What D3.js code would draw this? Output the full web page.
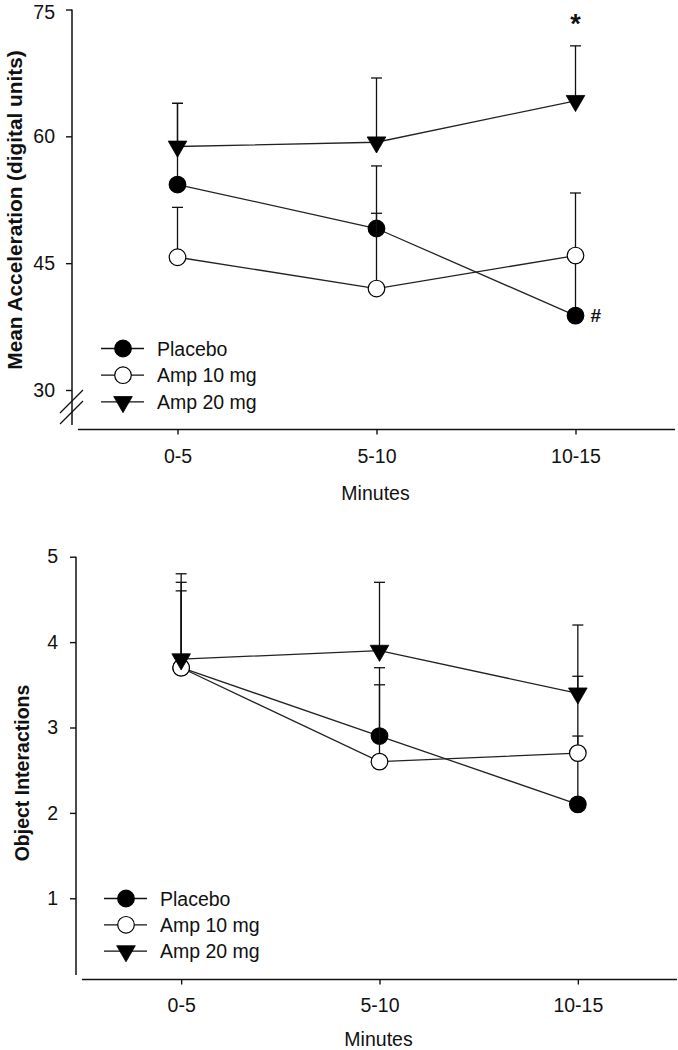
<!DOCTYPE html>
<html>
<head>
<meta charset="utf-8">
<script src="https://cdn.jsdelivr.net/npm/d3@7"></script>
<style>
  html, body { margin: 0; padding: 0; background: #fff; }
  svg { display: block; }
  text { font-family: "Liberation Sans", Arial, sans-serif; fill: #111; }
</style>
</head>
<body>
<svg id="chart" width="678" height="1050"></svg>
<script>
// ---------------- data ----------------
const categories = ["0-5", "5-10", "10-15"];
const seriesNames = ["Placebo", "Amp 10 mg", "Amp 20 mg"];

// Panel A: Mean Acceleration (digital units)
const accPlacebo    = [54.3, 49.1, 38.8];
const accPlaceboErr = [9.6, 7.4, 6.3];
const accAmp10      = [45.7, 42.0, 45.9];
const accAmp10Err   = [5.9, 8.9, 7.4];
const accAmp20      = [58.8, 59.3, 64.2];
const accAmp20Err   = [5.1, 7.6, 6.5];
const accTicks      = [30, 45, 60, 75];

// Panel B: Object Interactions
const objPlacebo    = [3.7, 2.9, 2.1];
const objPlaceboErr = [0.9, 0.8, 0.8];
const objAmp10      = [3.7, 2.6, 2.7];
const objAmp10Err   = [1.0, 0.9, 0.9];
const objAmp20      = [3.8, 3.9, 3.4];
const objAmp20Err   = [1.0, 0.8, 0.8];
const objTicks      = [1, 2, 3, 4, 5];

const markerKinds = ["filledCircle", "openCircle", "triangleDown"];

// ---------------- drawing ----------------
const svg = d3.select("#chart");
const FONT = 19.5;

function drawMarker(g, kind, x, y) {
  if (kind === "triangleDown") {
    g.append("path")
      .attr("d", d3.symbol().type(d3.symbolTriangle).size(150)())
      .attr("transform", `translate(${x},${y}) rotate(180)`)
      .attr("fill", "#000").attr("stroke", "#000").attr("stroke-width", 0.8);
  } else {
    g.append("circle")
      .attr("cx", x).attr("cy", y).attr("r", 8.3)
      .attr("fill", kind === "filledCircle" ? "#000" : "#fff")
      .attr("stroke", "#000").attr("stroke-width", 1.2);
  }
}

function panel(cfg) {
  const g = svg.append("g");
  const x = d3.scalePoint().domain(categories).range(cfg.xRange).padding(0.5);
  const y = d3.scaleLinear().domain(cfg.yDomain).range(cfg.yRange);

  // y axis
  const yAxis = d3.axisLeft(y).tickValues(cfg.ticks).tickFormat(d3.format("d"))
    .tickSize(6).tickPadding(cfg.yPad).tickSizeOuter(0);
  const ya = g.append("g").attr("transform", `translate(${cfg.yAxisX},0)`).call(yAxis);
  ya.select(".domain").remove();
  ya.selectAll(".tick line").attr("stroke", "#111").attr("stroke-width", 1.4);
  ya.selectAll(".tick text").attr("font-size", FONT).attr("fill", "#222")
    .style("font-family", '"Liberation Sans", Arial, sans-serif');
  // keep the top tick label inside the page
  ya.selectAll(".tick text").filter(d => d === cfg.yDomain[1] && y(d) < 14)
    .attr("dy", "0.45em");
  g.append("line")
    .attr("x1", cfg.yAxisX).attr("x2", cfg.yAxisX)
    .attr("y1", y(cfg.yDomain[1])).attr("y2", cfg.yAxisEnd)
    .attr("stroke", "#111").attr("stroke-width", 1.5);

  if (cfg.axisBreak) {
    cfg.axisBreak.forEach(by => {
      g.append("line")
        .attr("x1", cfg.yAxisX - 12).attr("y1", by + 12)
        .attr("x2", cfg.yAxisX + 11).attr("y2", by - 11)
        .attr("stroke", "#111").attr("stroke-width", 1.3);
    });
  }

  // x axis
  const xAxis = d3.axisBottom(x).tickSize(5).tickPadding(cfg.xPad).tickSizeOuter(0);
  const xa = g.append("g").attr("transform", `translate(0,${cfg.xAxisY})`).call(xAxis);
  xa.select(".domain").attr("stroke", "#111").attr("stroke-width", 1.5)
    .attr("d", `M${cfg.xRange[0]},0H${cfg.xRange[1]}`);
  xa.selectAll(".tick line").attr("stroke", "#111").attr("stroke-width", 1.4);
  xa.selectAll(".tick text").attr("font-size", FONT).attr("fill", "#222")
    .style("font-family", '"Liberation Sans", Arial, sans-serif');

  // axis titles
  g.append("text")
    .attr("x", (cfg.xRange[0] + cfg.xRange[1]) / 2 - 1).attr("y", cfg.xTitleY)
    .attr("text-anchor", "middle").attr("font-size", FONT).attr("fill", "#222")
    .text("Minutes");
  g.append("text")
    .attr("transform", `translate(${cfg.yTitleX},${cfg.yTitleY}) rotate(-90)`)
    .attr("text-anchor", "middle").attr("dy", "0.36em")
    .attr("font-size", cfg.yTitleSize).attr("font-weight", "bold").attr("fill", "#000")
    .text(cfg.yTitle);

  // series
  const line = d3.line().x((d, i) => x(categories[i])).y(d => y(d));
  cfg.series.forEach((s, si) => {
    const sg = g.append("g");
    sg.append("path").attr("d", line(s.values))
      .attr("fill", "none").attr("stroke", "#222").attr("stroke-width", 1.3);
    s.values.forEach((v, i) => {
      const cx = x(categories[i]);
      const top = y(v + s.err[i]);
      sg.append("line").attr("x1", cx).attr("x2", cx).attr("y1", y(v)).attr("y2", top)
        .attr("stroke", "#111").attr("stroke-width", 1.3);
      sg.append("line").attr("x1", cx - 5.5).attr("x2", cx + 5.5).attr("y1", top).attr("y2", top)
        .attr("stroke", "#111").attr("stroke-width", 1.3);
    });
    s.values.forEach((v, i) => drawMarker(sg, markerKinds[si], x(categories[i]), y(v)));
  });

  // legend
  const lg = g.append("g");
  seriesNames.forEach((name, i) => {
    const ly = cfg.legendY + i * cfg.legendStep;
    lg.append("line").attr("x1", cfg.legendX).attr("x2", cfg.legendX + 43)
      .attr("y1", ly).attr("y2", ly).attr("stroke", "#111").attr("stroke-width", 1.3);
    drawMarker(lg, markerKinds[i], cfg.legendX + 22, ly);
    lg.append("text").attr("x", cfg.legendX + 56).attr("y", ly).attr("dy", "0.36em")
      .attr("font-size", FONT).attr("fill", "#222").text(name);
  });

  return { g, x, y };
}

const A = panel({
  xRange: [78, 675], yDomain: [30, 75], yRange: [390, 9.5], ticks: accTicks,
  yAxisX: 72, yAxisEnd: 425, yPad: 11, xAxisY: 429.5, xPad: 15,
  xTitleY: 500, yTitleX: 14, yTitleY: 210, yTitleSize: 20.8,
  yTitle: "Mean Acceleration (digital units)",
  axisBreak: [401, 412],
  legendX: 101, legendY: 348.5, legendStep: 26.7,
  series: [
    { values: accPlacebo, err: accPlaceboErr },
    { values: accAmp10, err: accAmp10Err },
    { values: accAmp20, err: accAmp20Err }
  ]
});

// significance marks
A.g.append("text").attr("x", A.x("10-15")).attr("y", 33).attr("text-anchor", "middle")
  .attr("font-size", 27).attr("font-weight", "bold").attr("fill", "#000").text("*");
A.g.append("text").attr("x", A.x("10-15") + 15).attr("y", A.y(accPlacebo[2])).attr("dy", "0.36em")
  .attr("font-size", 19).attr("font-weight", "bold").attr("fill", "#000").text("#");

panel({
  xRange: [82, 677], yDomain: [1, 5], yRange: [898.3, 556.7], ticks: objTicks,
  yAxisX: 76, yAxisEnd: 975, yPad: 12, xAxisY: 979.5, xPad: 14,
  xTitleY: 1046, yTitleX: 22, yTitleY: 773, yTitleSize: 19.5,
  yTitle: "Object Interactions",
  axisBreak: null,
  legendX: 104, legendY: 898.5, legendStep: 26.3,
  series: [
    { values: objPlacebo, err: objPlaceboErr },
    { values: objAmp10, err: objAmp10Err },
    { values: objAmp20, err: objAmp20Err }
  ]
});
</script>
</body>
</html>
